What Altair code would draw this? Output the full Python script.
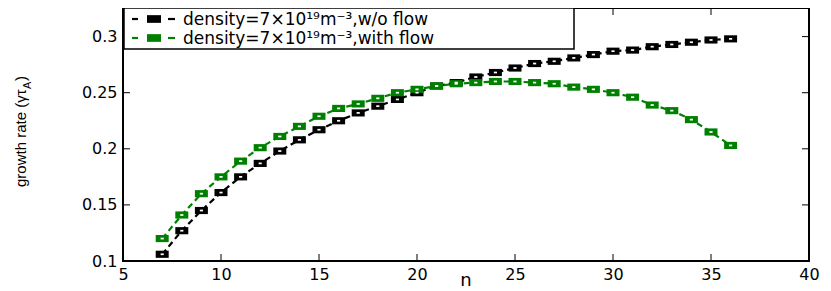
import altair as alt
import pandas as pd

# ---- data ----
n_values = [7, 8, 9, 10, 11, 12, 13, 14, 15, 16, 17, 18, 19, 20, 21, 22,
            23, 24, 25, 26, 27, 28, 29, 30, 31, 32, 33, 34, 35, 36]
without_flow = [0.106, 0.127, 0.145, 0.161, 0.175, 0.187, 0.198, 0.208, 0.217, 0.225,
                0.232, 0.238, 0.244, 0.250, 0.256, 0.259, 0.264, 0.268, 0.272, 0.276,
                0.278, 0.281, 0.284, 0.287, 0.288, 0.291, 0.293, 0.295, 0.297, 0.298]
with_flow = [0.120, 0.141, 0.160, 0.175, 0.189, 0.201, 0.211, 0.220, 0.229, 0.236,
             0.240, 0.245, 0.250, 0.253, 0.256, 0.258, 0.259, 0.260, 0.260, 0.259,
             0.258, 0.255, 0.253, 0.250, 0.246, 0.239, 0.234, 0.226, 0.215, 0.203]
series_names = ["density=7×10¹⁹m⁻³,w/o flow", "density=7×10¹⁹m⁻³,with flow"]
series_colors = ["#000000", "#008000"]
x_ticks = [5, 10, 15, 20, 25, 30, 35, 40]
y_ticks = [0.1, 0.15, 0.2, 0.25, 0.3]
x_title = "n"
y_title_main = "growth rate (γτ"
y_title_sub = "A"
y_title_end = ")"

W, H = 686, 253
FONT = "DejaVu Sans"
TFONT = "Liberation Sans"

rows = []
for name, vals in zip(series_names, [without_flow, with_flow]):
    for n, v in zip(n_values, vals):
        rows.append({"n": n, "rate": v, "series": name})
df = pd.DataFrame(rows)

xscale = alt.Scale(domain=[5, 40], nice=False, zero=False)
yscale = alt.Scale(domain=[0.1, 0.3255], nice=False, zero=False)
cscale = alt.Scale(domain=series_names, range=series_colors)

RECT = "M-1,-0.55L1,-0.55L1,0.55L-1,0.55Z"

base = alt.Chart(df)
lines = base.mark_line(strokeWidth=2.2, strokeDash=[6, 4]).encode(
    x=alt.X("n:Q", scale=xscale,
            axis=alt.Axis(values=x_ticks, ticks=False, domain=False, grid=False,
                          labelFont=FONT, labelFontSize=16, labelColor="black",
                          labelPadding=5, title=None, labelFlush=False)),
    y=alt.Y("rate:Q", scale=yscale,
            axis=alt.Axis(values=y_ticks, ticks=False, domain=False, grid=False,
                          format="~g", labelFont=FONT, labelFontSize=16,
                          labelColor="black", labelPadding=6, title=None)),
    color=alt.Color("series:N", scale=cscale, legend=None),
    detail="series:N",
)
markers = base.mark_point(shape=RECT, filled=True, size=169, opacity=1).encode(
    x=alt.X("n:Q", scale=xscale),
    y=alt.Y("rate:Q", scale=yscale),
    color=alt.Color("series:N", scale=cscale, legend=None),
)
centers = base.mark_point(shape=RECT, filled=True, size=10, opacity=1, color="white").encode(
    x=alt.X("n:Q", scale=xscale),
    y=alt.Y("rate:Q", scale=yscale),
)

ydf = pd.DataFrame({"v": y_ticks})
xdf = pd.DataFrame({"v": x_ticks})
tick_style = dict(color="black", strokeWidth=1)
yt_left = alt.Chart(ydf).mark_rule(**tick_style).encode(
    y=alt.Y("v:Q", scale=yscale), x=alt.value(0), x2=alt.value(7))
yt_right = alt.Chart(ydf).mark_rule(**tick_style).encode(
    y=alt.Y("v:Q", scale=yscale), x=alt.value(W - 7), x2=alt.value(W))
xt_bottom = alt.Chart(xdf).mark_rule(**tick_style).encode(
    x=alt.X("v:Q", scale=xscale), y=alt.value(H), y2=alt.value(H - 7))
xt_top = alt.Chart(xdf).mark_rule(**tick_style).encode(
    x=alt.X("v:Q", scale=xscale), y=alt.value(0), y2=alt.value(7))

one = pd.DataFrame({"a": [0]})
leg_box = alt.Chart(one).mark_rect(fill="white", stroke="black", strokeWidth=1.5).encode(
    x=alt.value(1), x2=alt.value(451), y=alt.value(0), y2=alt.value(41))

legend_layers = [leg_box]
for i, (name, col) in enumerate(zip(series_names, series_colors)):
    yy = 11 + 19 * i
    legend_layers.append(alt.Chart(one).mark_rule(color=col, strokeWidth=2.2).encode(
        x=alt.value(9), x2=alt.value(15), y=alt.value(yy)))
    legend_layers.append(alt.Chart(one).mark_rule(color=col, strokeWidth=2.2).encode(
        x=alt.value(45), x2=alt.value(52), y=alt.value(yy)))
    legend_layers.append(alt.Chart(one).mark_point(shape=RECT, filled=True, size=196,
                                                   opacity=1, color=col).encode(
        x=alt.value(31), y=alt.value(yy)))
    legend_layers.append(alt.Chart(one).mark_text(
        text=name, font=FONT, fontSize=17, align="left", baseline="middle",
        color="black").encode(x=alt.value(60), y=alt.value(yy + 1)))

xt = alt.Chart(one).mark_text(text=x_title, font=FONT, fontSize=18, align="center",
                              baseline="middle", color="black").encode(
    x=alt.value(W / 2), y=alt.value(273))

YT_X, YT_Y = -97, 179
yt1 = alt.Chart(one).mark_text(text=y_title_main, font=TFONT, fontSize=15, angle=270,
                               align="left", baseline="alphabetic", color="black").encode(
    x=alt.value(YT_X), y=alt.value(YT_Y))
yt2 = alt.Chart(one).mark_text(text=y_title_sub, font=TFONT, fontSize=11, angle=270,
                               align="left", baseline="alphabetic", color="black",
                               dx=98, dy=5).encode(
    x=alt.value(YT_X), y=alt.value(YT_Y))
yt3 = alt.Chart(one).mark_text(text=y_title_end, font=TFONT, fontSize=15, angle=270,
                               align="left", baseline="alphabetic", color="black",
                               dx=106).encode(
    x=alt.value(YT_X), y=alt.value(YT_Y))

chart = alt.layer(
    lines, yt_left, yt_right, xt_bottom, xt_top,
    markers, centers,
    *legend_layers,
    xt, yt1, yt2, yt3,
).properties(
    width=W, height=H,
    autosize=alt.AutoSizeParams(type="none"),
    padding={"left": 115, "top": 0, "right": 12, "bottom": 28},
).configure_view(stroke="black", strokeWidth=2)

chart.save("out.html", embed_options={"renderer": "svg", "actions": False})
